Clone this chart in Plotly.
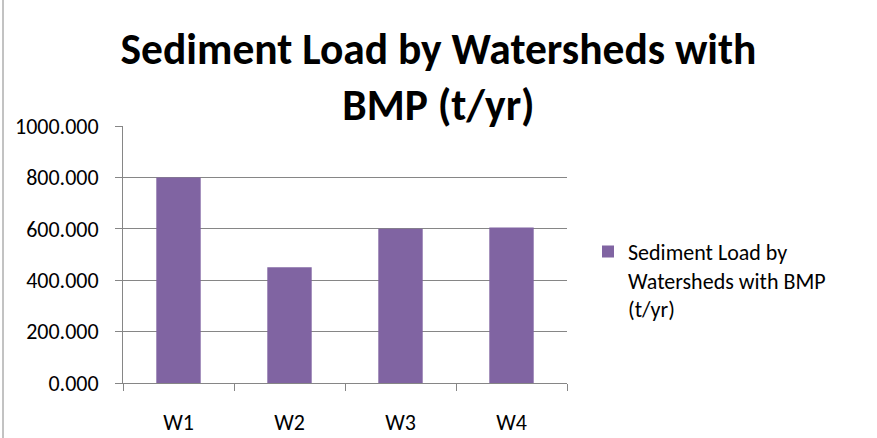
import plotly.graph_objects as go

categories = ["W1", "W2", "W3", "W4"]
values = [800, 450, 600, 605]
series_name = "Sediment Load by<br>Watersheds with BMP<br>(t/yr)"
title_text = "Sediment Load by Watersheds with<br>BMP (t/yr)"

W, H = 877, 438
ml, mr, mt, mb = 123, 310, 126, 55
pw = W - ml - mr
ph = H - mt - mb

fig = go.Figure()
fig.add_trace(go.Bar(x=categories, y=values, name=series_name,
                     marker=dict(color="#8064A2", line=dict(width=0))))

fig.update_layout(
    width=W, height=H,
    margin=dict(l=ml, r=mr, t=mt, b=mb, autoexpand=False),
    paper_bgcolor="white", plot_bgcolor="white",
    font=dict(family="Carlito, Lato, 'Open Sans', sans-serif", color="black"),
    title=dict(text="<b>" + title_text + "</b>", x=0.5, xref="container", xanchor="center",
               y=0.855, yref="container", yanchor="top",
               font=dict(size=43.5, color="black")),
    bargap=0.6,
    showlegend=True,
    legend=dict(x=(588 - ml) / pw, xanchor="left", y=0.40, yanchor="middle",
                font=dict(size=22), valign="top", itemwidth=30,
                bgcolor="rgba(0,0,0,0)"),
    xaxis=dict(showline=True, linecolor="#868686", linewidth=1, automargin=False,
               ticks="outside", tickson="boundaries", ticklen=7, tickcolor="#868686",
               tickfont=dict(size=22), showgrid=False, ticklabelstandoff=20),
    yaxis=dict(range=[0, 1000], dtick=200, tickformat=".3f", automargin=False,
               showline=True, linecolor="#868686", linewidth=1,
               ticks="outside", ticklen=7, tickcolor="#868686",
               showgrid=True, gridcolor="#868686", gridwidth=1,
               tickfont=dict(size=22), zeroline=False, ticklabelstandoff=12),
    shapes=[dict(type="line", xref="paper", yref="paper",
                 x0=(3 - ml) / pw, x1=(3 - ml) / pw, y0=-mb / ph, y1=(H - mb) / ph,
                 line=dict(color="#868686", width=1))],
)

fig.write_html("out.html", config={"displayModeBar": False},
               post_script="document.body.style.margin='0';")
